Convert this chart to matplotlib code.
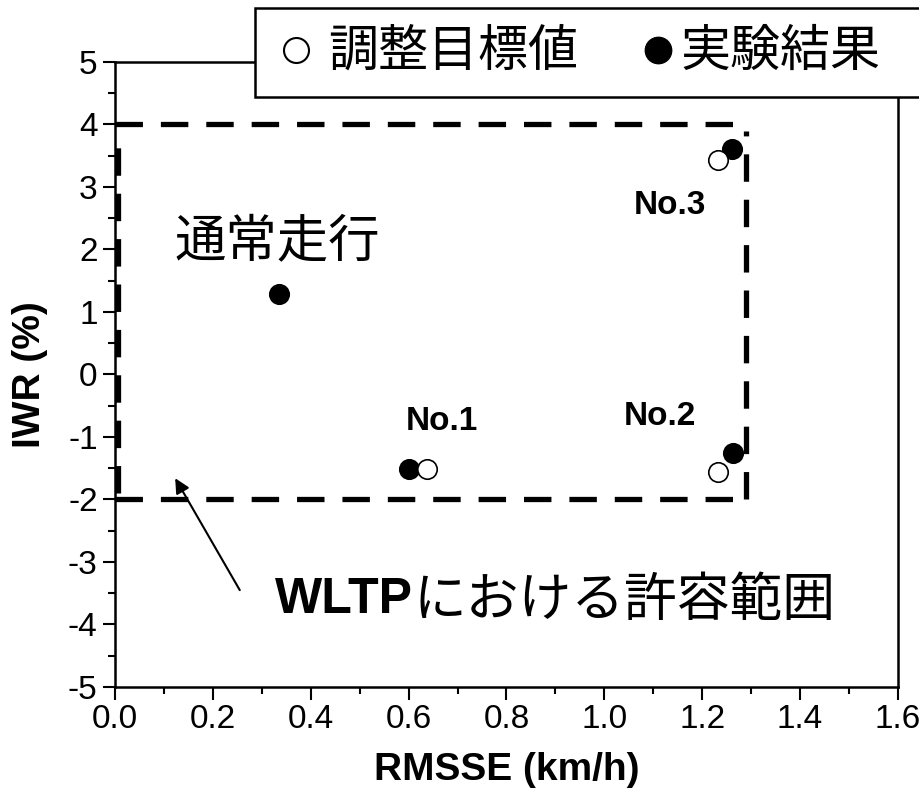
import matplotlib
matplotlib.use('Agg')
import matplotlib.pyplot as plt
from matplotlib.patches import Rectangle
from matplotlib.lines import Line2D
from matplotlib.ticker import MultipleLocator, FormatStrFormatter

plt.rcParams['font.family'] = ['Liberation Sans', 'Noto Sans CJK JP']
plt.rcParams['axes.unicode_minus'] = False

JP = ['Noto Sans CJK JP', 'Liberation Sans']

# 調整目標値 (open markers)
target_x = [0.637, 1.232, 1.232]
target_y = [-1.51, -1.56, 3.43]

# 実験結果 (filled markers)
result_x = [0.335, 0.601, 1.263, 1.261]
result_y = [1.29, -1.51, -1.26, 3.61]

# WLTP tolerance window
rmsse_max = 1.29
iwr_min, iwr_max = -2.0, 4.0

case_labels = ['No.1', 'No.2', 'No.3']
case_label_x = [0.668, 1.114, 1.134]
case_label_y = [-0.76, -0.68, 2.71]

fig = plt.figure(figsize=(9.2, 8.09), dpi=100)
ax = fig.add_axes([0.125, 0.1508, 0.851, 0.7726])
ax.set_xlim(0, 1.6)
ax.set_ylim(-5, 5)

# tolerance box, dashed
dash = dict(color='black', lw=3.8, linestyle=(0, (5.2, 3.4)), zorder=2)
ax.plot([0.0, rmsse_max - 0.01], [iwr_max, iwr_max], **dash)
ax.plot([0.0, rmsse_max - 0.01], [iwr_min, iwr_min], **dash)
ax.plot([0.006, 0.006], [iwr_min + 0.1, iwr_max - 0.1], **dash)
ax.plot([rmsse_max, rmsse_max], [iwr_min, iwr_max - 0.1], **dash)

ax.plot(result_x, result_y, 'o', ms=14, mfc='black', mec='black', mew=1.2, zorder=4)
ax.plot(target_x, target_y, 'o', ms=14, mfc='white', mec='black', mew=1.2, zorder=5)

for lab, lx, ly in zip(case_labels, case_label_x, case_label_y):
    ax.text(lx, ly, lab, ha='center', va='center', fontsize=24, fontweight='bold')

ax.text(0.331, 2.12, '通常走行', ha='center', va='center', fontsize=37, family=JP)

ax.annotate('', xy=(0.123, -1.66), xytext=(0.255, -3.45),
            arrowprops=dict(arrowstyle='-|>', color='black', lw=1.5,
                            mutation_scale=22, shrinkA=0, shrinkB=0))

t1 = ax.text(0.327, -3.61, 'WLTP', ha='left', va='center', fontsize=36,
             fontweight='bold', family=['Liberation Sans'])
ax.annotate('における許容範囲', xy=(1.0, 0.5), xycoords=t1, ha='left', va='center',
            fontsize=38, family=JP)

ax.xaxis.set_major_locator(MultipleLocator(0.2))
ax.xaxis.set_minor_locator(MultipleLocator(0.1))
ax.yaxis.set_major_locator(MultipleLocator(1))
ax.yaxis.set_minor_locator(MultipleLocator(0.5))
ax.xaxis.set_major_formatter(FormatStrFormatter('%.1f'))
ax.yaxis.set_major_formatter(FormatStrFormatter('%d'))
ax.tick_params(which='both', direction='out', width=1.5, labelsize=24, top=False, right=False)
ax.tick_params(which='major', length=9)
ax.tick_params(which='minor', length=5)
for s in ax.spines.values():
    s.set_linewidth(1.8)

ax.set_xlabel('RMSSE (km/h)', fontsize=28, fontweight='bold', labelpad=12)
ax.set_ylabel('IWR (%)', fontsize=28, fontweight='bold', labelpad=14)

# legend box sitting over the top frame
fig.patches.append(Rectangle((255 / 920, 1 - 97 / 809), 0.8, 89 / 809,
                             transform=fig.transFigure, facecolor='white',
                             edgecolor='black', lw=1.8, zorder=10))
leg_y = 1 - 50 / 809
fig.add_artist(Line2D([296 / 920], [leg_y], marker='o', ms=18, mfc='white', mec='black',
                      mew=1.5, transform=fig.transFigure, zorder=11))
fig.add_artist(Line2D([658 / 920], [leg_y], marker='o', ms=19, mfc='black', mec='black',
                      transform=fig.transFigure, zorder=11))
fig.text(328 / 920, 1 - 52 / 809, '調整目標値', ha='left', va='center',
         fontsize=36, family=JP, zorder=11)
fig.text(680 / 920, 1 - 52 / 809, '実験結果', ha='left', va='center',
         fontsize=36, family=JP, zorder=11)

fig.savefig('out.png', dpi=100)
